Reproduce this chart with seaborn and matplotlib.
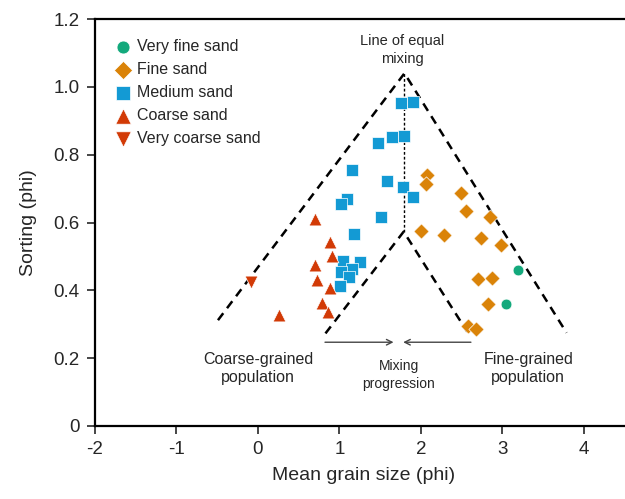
import numpy as np
import pandas as pd
import matplotlib
matplotlib.use("Agg")
import matplotlib.pyplot as plt
import seaborn as sns

# grain size data (mean phi, sorting phi)
very_fine_x = [3.19, 3.05]
very_fine_y = [0.46, 0.36]

fine_x = [2.08, 2.07, 2.49, 2.56, 2.85, 2.00, 2.28, 2.74, 2.99, 2.70, 2.88, 2.83, 2.58, 2.68]
fine_y = [0.74, 0.713, 0.688, 0.635, 0.617, 0.576, 0.563, 0.553, 0.534, 0.433, 0.435, 0.36, 0.295, 0.285]

medium_x = [1.76, 1.90, 1.47, 1.65, 1.79, 1.16, 1.58, 1.78, 1.90, 1.09, 1.02, 1.51, 1.18,
            1.04, 1.26, 1.16, 1.02, 1.12, 1.01]
medium_y = [0.953, 0.956, 0.835, 0.851, 0.856, 0.755, 0.723, 0.706, 0.676, 0.668, 0.654, 0.617, 0.567,
            0.486, 0.484, 0.464, 0.453, 0.438, 0.413]

coarse_x = [0.70, 0.89, 0.91, 0.70, 0.73, 0.89, 0.79, 0.86, 0.26]
coarse_y = [0.609, 0.542, 0.501, 0.474, 0.43, 0.406, 0.364, 0.335, 0.327]

very_coarse_x = [-0.09]
very_coarse_y = [0.425]

classes = ["Very fine sand", "Fine sand", "Medium sand", "Coarse sand", "Very coarse sand"]
colors = ["#13a97c", "#da8308", "#139ad4", "#d23a06", "#d23a06"]
markers = ["o", "D", "s", "^", "v"]
sizes = [60, 60, 70, 85, 85]

# mixing triangle guide lines
outer_x = [-0.49, 1.80, 3.79]
outer_y = [0.312, 1.04, 0.275]
inner_x = [0.83, 1.79, 2.57]
inner_y = [0.273, 0.573, 0.278]

frames = []
for name, xs, ys in zip(classes,
                        [very_fine_x, fine_x, medium_x, coarse_x, very_coarse_x],
                        [very_fine_y, fine_y, medium_y, coarse_y, very_coarse_y]):
    frames.append(pd.DataFrame({"mean": xs, "sorting": ys, "cls": name}))
df = pd.concat(frames, ignore_index=True)

sns.set_style("ticks")
plt.rcParams["font.family"] = ["Liberation Sans", "DejaVu Sans"]
plt.rcParams["axes.unicode_minus"] = False

txt = "#262626"

fig = plt.figure(figsize=(6.25, 4.99), dpi=100)
ax = fig.add_axes([0.152, 0.1463, 0.86, 0.8156])

ax.plot(outer_x, outer_y, color="black", lw=1.8, ls=(0, (3.5, 2.5)), zorder=1)
ax.plot(inner_x, inner_y, color="black", lw=1.8, ls=(0, (3.5, 2.5)), zorder=1)
ax.plot([1.79, 1.79], [0.573, 1.04], color="black", lw=1, ls=(0, (2, 1.5)), zorder=1)

for name, c, m, s in zip(classes, colors, markers, sizes):
    sub = df[df["cls"] == name]
    sns.scatterplot(data=sub, x="mean", y="sorting", color=c, marker=m, s=s,
                    edgecolor="white", linewidth=0.5, label=name, ax=ax, zorder=3)

# mixing progression arrows
ax.annotate("", xy=(1.70, 0.247), xytext=(0.79, 0.247),
            arrowprops=dict(arrowstyle="->", color="#444444", lw=1))
ax.annotate("", xy=(1.75, 0.247), xytext=(2.65, 0.247),
            arrowprops=dict(arrowstyle="->", color="#444444", lw=1))

ax.text(1.77, 1.108, "Line of equal\nmixing", ha="center", va="center", fontsize=10.5,
        color=txt, linespacing=1.35)
ax.text(0.0, 0.17, "Coarse-grained\npopulation", ha="center", va="center", fontsize=11.5,
        color=txt, linespacing=1.3)
ax.text(1.73, 0.15, "Mixing\nprogression", ha="center", va="center", fontsize=10,
        color=txt, linespacing=1.35)
ax.text(3.32, 0.17, "Fine-grained\npopulation", ha="center", va="center", fontsize=11.5,
        color=txt, linespacing=1.3)

ax.set_xlim(-2, 4.6)
ax.set_ylim(0, 1.2)
ax.set_xticks([-2, -1, 0, 1, 2, 3, 4])
ax.set_yticks([0, 0.2, 0.4, 0.6, 0.8, 1.0, 1.2])
ax.set_yticklabels(["0", "0.2", "0.4", "0.6", "0.8", "1.0", "1.2"])
ax.set_xlabel("Mean grain size (phi)", fontsize=14, color=txt, labelpad=6)
ax.set_ylabel("Sorting (phi)", fontsize=14, color=txt, labelpad=12)
ax.tick_params(labelsize=13.5, length=6, width=1.2, direction="out", colors=txt, pad=5)
ax.spines["right"].set_visible(False)
for sp in ["left", "top", "bottom"]:
    ax.spines[sp].set_linewidth(1.6)
    ax.spines[sp].set_color("black")

ax.legend(loc="upper left", frameon=False, fontsize=11.5, handletextpad=0.4,
          handlelength=1.0, labelspacing=0.5, markerscale=1.2,
          bbox_to_anchor=(0.0, 1.0), borderaxespad=0.85)

fig.savefig("out.png", dpi=100)
